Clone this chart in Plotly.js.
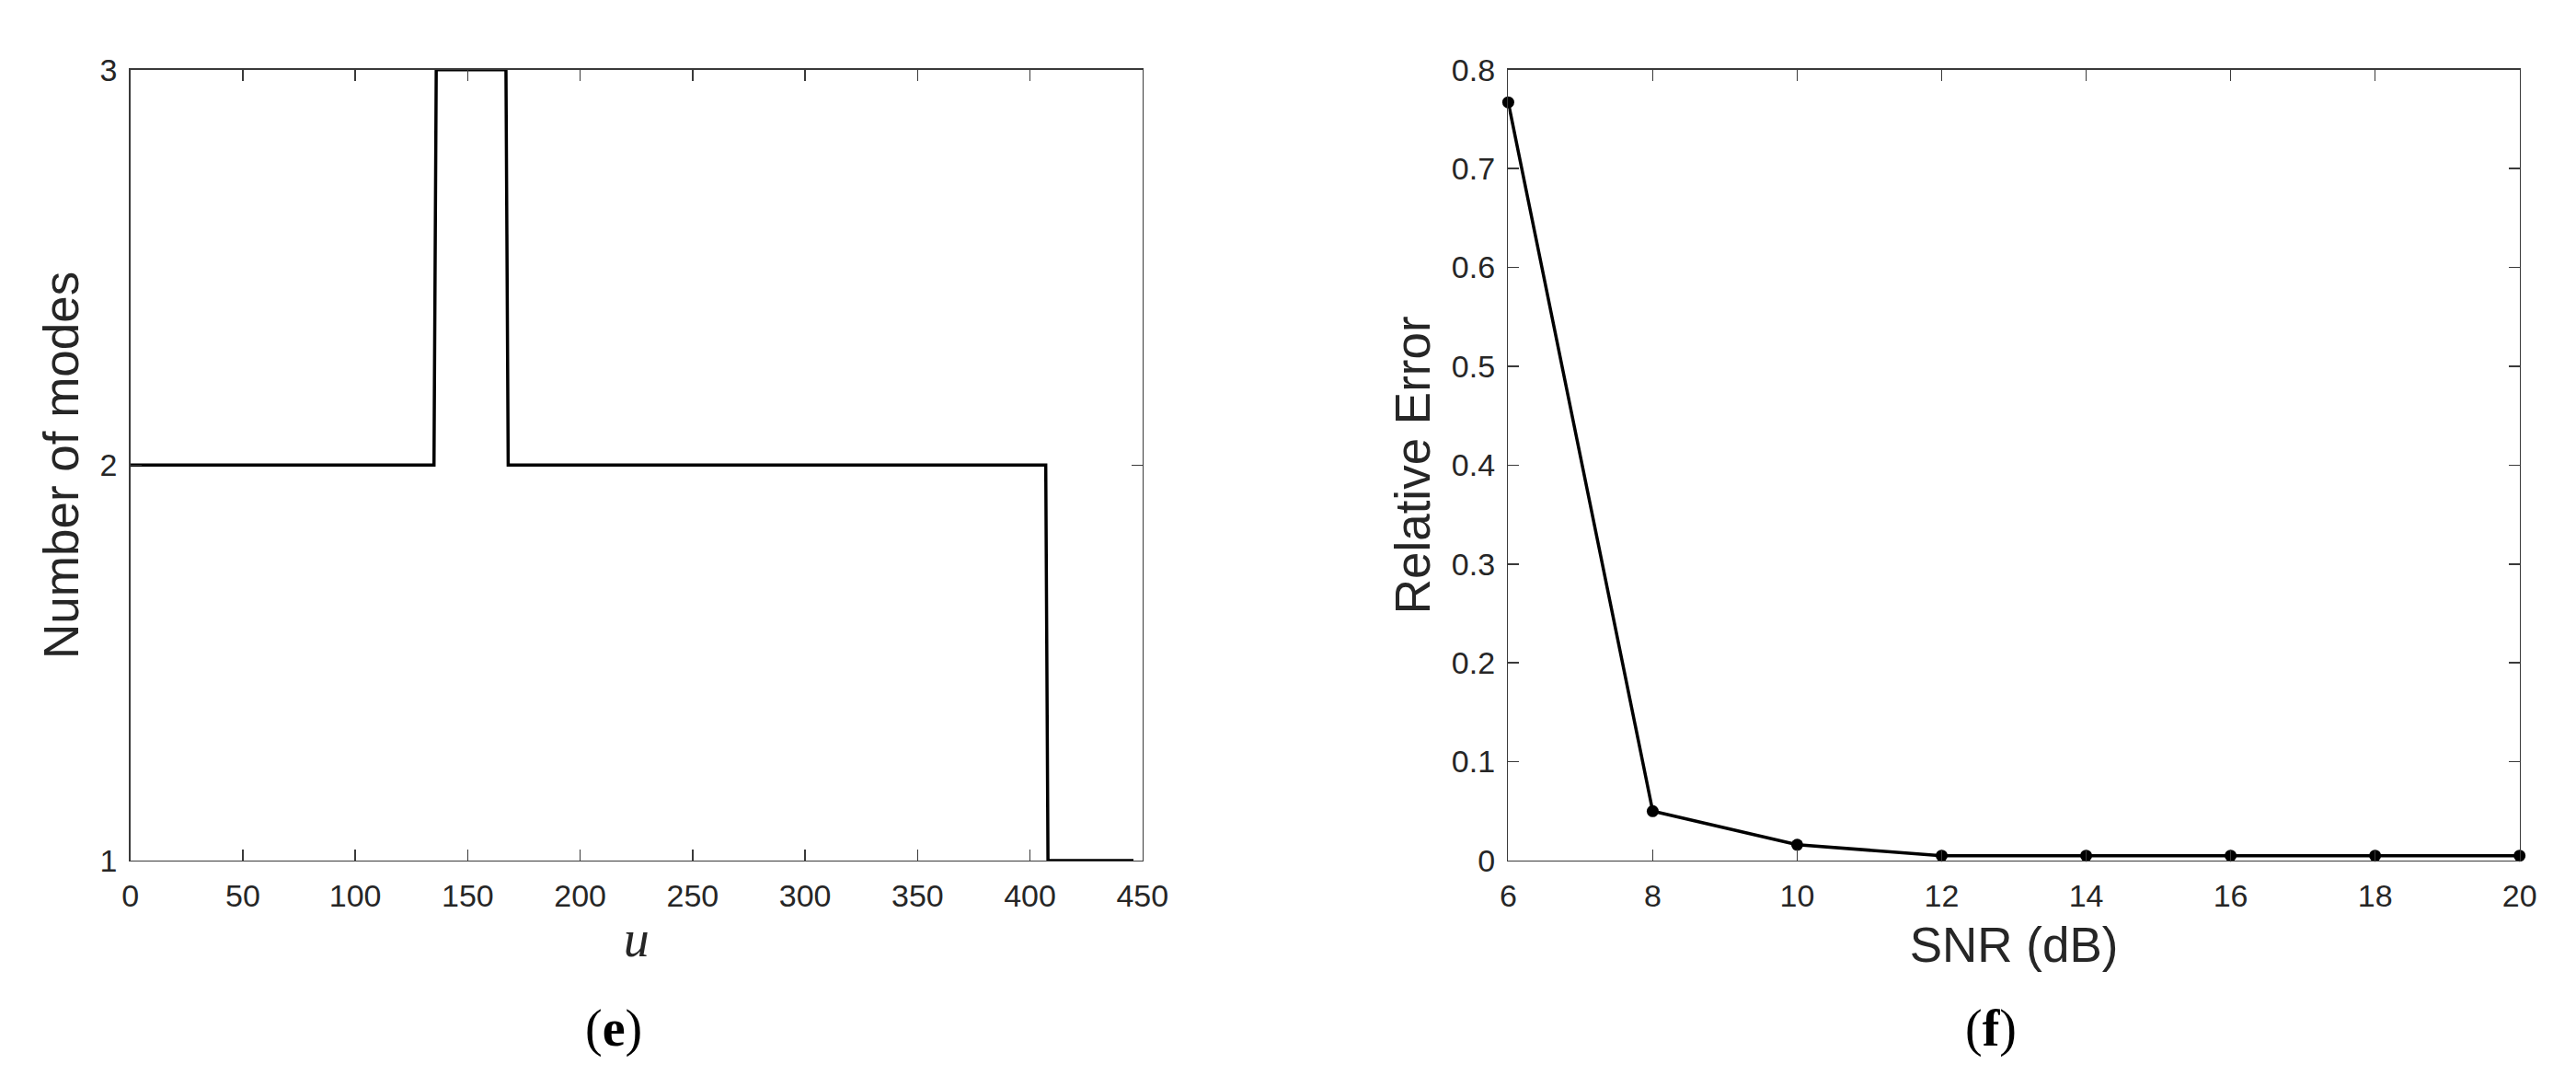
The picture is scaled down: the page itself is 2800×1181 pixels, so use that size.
<!DOCTYPE html>
<html>
<head>
<meta charset="utf-8">
<script src="https://cdn.plot.ly/plotly-3.0.1.min.js"></script>
<style>
  html, body { margin: 0; padding: 0; background: #fff; }
  #plotArea { width: 2800px; height: 1181px; }
</style>
</head>
<body>
<div id="plotArea"></div>
<script>
// (e) number of modes along u (step curve)
var uPoints = [0, 135, 136, 167, 168, 407, 408, 446];
var modeCounts = [2, 2, 3, 3, 2, 2, 1, 1];
var uTicks = [0, 50, 100, 150, 200, 250, 300, 350, 400, 450];
var modeTicks = [1, 2, 3];

// (f) relative error vs SNR
var snrValues = [6, 8, 10, 12, 14, 16, 18, 20];
var relError = [0.767, 0.050, 0.016, 0.005, 0.005, 0.005, 0.005, 0.005];
var snrTicks = [6, 8, 10, 12, 14, 16, 18, 20];
var errTicks = [0, 0.1, 0.2, 0.3, 0.4, 0.5, 0.6, 0.7, 0.8];

var textColor = "#262626";
var tickFont = {family: "Liberation Sans, Arial, sans-serif", size: 34, color: textColor};
var titleFont = {family: "Liberation Sans, Arial, sans-serif", size: 53, color: textColor};

function axisStyle(extra) {
    var base = {
        showline: true,
        linecolor: "#3a3a3a",
        linewidth: 1.5,
        mirror: "allticks",
        ticks: "inside",
        ticklen: 12,
        tickwidth: 1.5,
        tickcolor: "#3a3a3a",
        showgrid: false,
        zeroline: false,
        tickfont: tickFont,
        automargin: false
    };
    for (var k in extra) base[k] = extra[k];
    return base;
}

var traceModes = {
    x: uPoints,
    y: modeCounts,
    mode: "lines",
    type: "scatter",
    line: {color: "#000", width: 3.5},
    xaxis: "x",
    yaxis: "y",
    cliponaxis: false,
    hoverinfo: "skip"
};

var traceError = {
    x: snrValues,
    y: relError,
    mode: "lines+markers",
    type: "scatter",
    line: {color: "#000", width: 3.5},
    marker: {color: "#000", size: 13},
    xaxis: "x2",
    yaxis: "y2",
    cliponaxis: false,
    hoverinfo: "skip"
};

var layout = {
    width: 2800,
    height: 1181,
    margin: {l: 0, r: 0, t: 0, b: 0},
    paper_bgcolor: "#fff",
    plot_bgcolor: "#fff",
    showlegend: false,
    xaxis: axisStyle({
        domain: [0.0506, 0.4435], anchor: "y",
        range: [0, 450], tickvals: uTicks, ticklabelstandoff: 8,
        title: {text: "<i>u</i>", font: {family: "Liberation Serif, Times New Roman, serif", size: 56, color: textColor}, standoff: 8}
    }),
    yaxis: axisStyle({
        domain: [0.2083, 0.9359], anchor: "x",
        range: [1, 3], tickvals: modeTicks, ticklabelstandoff: 6,
        title: {text: "Number of modes", font: titleFont, standoff: 6}
    }),
    xaxis2: axisStyle({
        domain: [0.5855, 0.9781], anchor: "y2",
        range: [6, 20], tickvals: snrTicks, ticklabelstandoff: 8,
        title: {text: "SNR (dB)", font: titleFont, standoff: 16}
    }),
    yaxis2: axisStyle({
        domain: [0.2083, 0.9359], anchor: "x2",
        range: [0, 0.8], tickvals: errTicks, ticklabelstandoff: 6,
        title: {text: "Relative Error", font: titleFont, standoff: 6}
    }),
    annotations: [
        {text: "(<b>e</b>)", xref: "paper", yref: "paper", x: 667 / 2800, y: 1 - 1117 / 1181,
         xanchor: "center", yanchor: "middle", showarrow: false,
         font: {family: "Liberation Serif, Times New Roman, serif", size: 56, color: "#000"}},
        {text: "(<b>f</b>)", xref: "paper", yref: "paper", x: 2164 / 2800, y: 1 - 1117 / 1181,
         xanchor: "center", yanchor: "middle", showarrow: false,
         font: {family: "Liberation Serif, Times New Roman, serif", size: 56, color: "#000"}}
    ]
};

Plotly.newPlot("plotArea", [traceModes, traceError], layout, {staticPlot: true, displayModeBar: false});
</script>
</body>
</html>
